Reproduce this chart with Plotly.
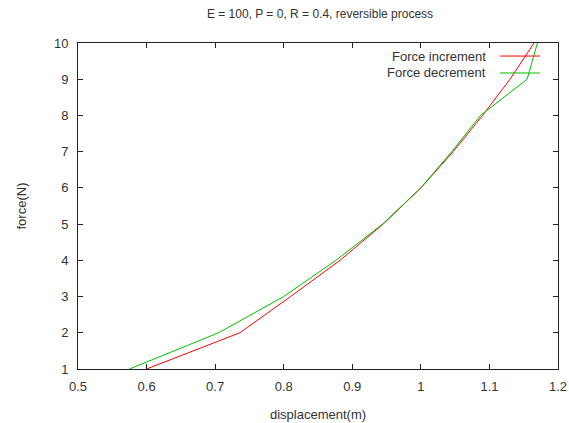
import plotly.graph_objects as go

force = [1, 2, 3, 4, 5, 6, 7, 8, 9, 10]
disp_increment = [0.600, 0.736, 0.810, 0.882, 0.945, 1.000, 1.047, 1.090, 1.130, 1.165]
disp_decrement = [0.575, 0.705, 0.800, 0.876, 0.944, 1.000, 1.045, 1.087, 1.155, 1.170]

title_text = "E = 100, P = 0, R = 0.4, reversible process"
x_ticks = [0.5, 0.6, 0.7, 0.8, 0.9, 1.0, 1.1, 1.2]
x_tick_labels = ["0.5", "0.6", "0.7", "0.8", "0.9", "1", "1.1", "1.2"]
y_ticks = [1, 2, 3, 4, 5, 6, 7, 8, 9, 10]

RED = "#ff0000"
GREEN = "#00c000"
FONT = "Liberation Sans, Arial, sans-serif"
TXT = "#333333"
FS = 13

fig = go.Figure()
fig.add_trace(go.Scatter(x=disp_increment, y=force, mode="lines",
                         line=dict(color=RED, width=1), name="Force increment"))
fig.add_trace(go.Scatter(x=disp_decrement, y=force, mode="lines",
                         line=dict(color=GREEN, width=1), name="Force decrement"))

axis_common = dict(showline=True, linecolor="#222222", linewidth=1, mirror="ticks",
                   ticks="inside", ticklen=5, tickcolor="#222222", showgrid=False,
                   zeroline=False, automargin=False,
                   tickfont=dict(family=FONT, size=FS, color=TXT))

fig.update_xaxes(range=[0.5, 1.2], tickvals=x_ticks, ticktext=x_tick_labels,
                 ticklabelstandoff=5,
                 title=dict(text="displacement(m)", font=dict(family=FONT, size=FS, color=TXT), standoff=17),
                 **axis_common)
fig.update_yaxes(range=[1, 10], tickvals=y_ticks,
                 ticklabelstandoff=6,
                 title=dict(text="force(N)", font=dict(family=FONT, size=FS, color=TXT), standoff=24),
                 **axis_common)

# gnuplot-style legend: text on the left, sample line on the right
legend_entries = [("Force increment", RED, 0.960), ("Force decrement", GREEN, 0.908)]
annotations = []
shapes = []
for label, color, ypos in legend_entries:
    annotations.append(dict(text=label, x=0.854, y=ypos, xref="paper", yref="paper",
                            xanchor="right", yanchor="middle", showarrow=False,
                            font=dict(family=FONT, size=FS, color=TXT)))
    shapes.append(dict(type="line", xref="paper", yref="paper", x0=0.879, x1=0.9625,
                       y0=ypos, y1=ypos, line=dict(color=color, width=1)))

fig.update_layout(
    width=569, height=423,
    margin=dict(l=78, r=11, t=43, b=54, autoexpand=False),
    paper_bgcolor="white", plot_bgcolor="white",
    showlegend=False,
    title=dict(text=title_text, x=320 / 569, xanchor="center", y=1 - 14 / 423, yanchor="middle",
               font=dict(family=FONT, size=12, color=TXT)),
    annotations=annotations, shapes=shapes,
)

fig.write_html("out.html", config={"displayModeBar": False},
               post_script="document.body.style.margin='0';document.body.style.overflow='hidden';")
